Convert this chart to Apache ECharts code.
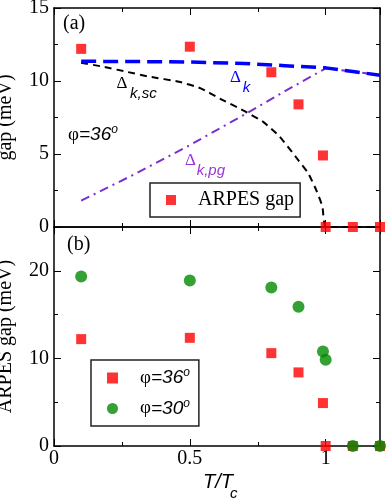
<!DOCTYPE html>
<html>
<head>
<meta charset="UTF-8">
<style>
	html, body { margin: 0; padding: 0; background: #fff; }
	#main { width: 388px; height: 501px; }
</style>
</head>
<body>
	<div id="main"></div>
	<script src="https://cdn.jsdelivr.net/npm/echarts@6/dist/echarts.min.js"></script>
<script>
	// ARPES points (phi = 36 and phi = 30)
	var tArpes = [0.1, 0.5, 0.8, 0.9, 0.99, 1.0, 1.1, 1.2];
	var gap36 = [12.2, 12.35, 10.6, 8.4, 4.9, 0, 0, 0];
	var gap30 = [19.35, 18.9, 18.1, 15.9, 10.8, 9.85, 0, 0];

	// model curves, top panel
	var tSc = [0.1, 0.18, 0.27, 0.35, 0.46, 0.54, 0.61, 0.7, 0.77, 0.83, 0.89, 0.935, 0.966, 0.988, 1.0, 1.1, 1.2];
	var gapSc = [11.25, 10.98, 10.62, 10.3, 9.95, 9.5, 8.8, 7.95, 7.2, 6.2, 4.8, 3.7, 2.5, 1.4, 0, 0, 0];
	var tK = [0.1, 0.3, 0.5, 0.7, 0.85, 1.0, 1.1, 1.2];
	var gapK = [11.35, 11.33, 11.3, 11.2, 11.05, 10.9, 10.65, 10.4];
	var tPg = [0.1, 0.3, 0.49, 0.72, 0.85, 1.0, 1.1, 1.2];
	var gapPg = [1.8, 3.65, 5.5, 7.9, 9.3, 10.87, 10.65, 10.4];

	var serif = 'Liberation Serif';
	var sans = 'Liberation Sans';

	function pairs(xs, ys) {
		var out = [];
		for (var i = 0; i < xs.length; i++) out.push([xs[i], ys[i]]);
		return out;
	}

	// one axis; "major" ones draw the frame line and long ticks
	function axis(grid, pos, max, step, major, labels) {
		return {
			type: 'value', gridIndex: grid, position: pos,
			min: 0, max: max, interval: step,
			axisLine: { show: major, onZero: false, lineStyle: { color: '#000', width: 1.5 } },
			axisTick: { show: true, inside: true, length: major ? 7 : 4, lineStyle: { color: '#000', width: 1 } },
			axisLabel: {
				show: !!labels, showMaxLabel: pos == 'left' && grid == 0,
				fontFamily: serif, fontSize: 20, color: '#000', margin: 5
			},
			splitLine: { show: false }
		};
	}

	var xAxes = [], yAxes = [];
	[0, 1].forEach(function (g) {
		xAxes.push(axis(g, 'bottom', 1.2, 0.5, true, g == 1));
		xAxes.push(axis(g, 'bottom', 1.2, 0.25, false));
		xAxes.push(axis(g, 'top', 1.2, 0.5, true));
		xAxes.push(axis(g, 'top', 1.2, 0.25, false));
		var ym = g == 0 ? 15 : 25, ys = g == 0 ? 5 : 10;
		yAxes.push(axis(g, 'left', ym, ys, true, true));
		yAxes.push(axis(g, 'left', ym, ys / 2, false));
		yAxes.push(axis(g, 'right', ym, ys, true));
		yAxes.push(axis(g, 'right', ym, ys / 2, false));
	});
	xAxes[4].axisLabel.showMaxLabel = false;
	xAxes[4].axisLabel.margin = 3;
	yAxes[0].name = 'gap (meV)';
	yAxes[4].name = 'ARPES gap (meV)';
	[yAxes[0], yAxes[4]].forEach(function (a) {
		a.nameLocation = 'middle';
		a.nameGap = 38;
		a.nameTextStyle = { fontFamily: serif, fontSize: 20, color: '#000' };
	});

	var phiRich = {
		p: { fontFamily: serif, fontSize: 19, lineHeight: 22, color: '#000' },
		n: { fontFamily: sans, fontStyle: 'italic', fontSize: 19, lineHeight: 22, color: '#000' },
		o: { fontFamily: sans, fontStyle: 'italic', fontSize: 12, lineHeight: 10, verticalAlign: 'top', color: '#000' },
		s: { width: 17 },
		t: { fontFamily: serif, fontSize: 20, lineHeight: 20, color: '#000' }
	};

	var myChart = echarts.init(document.getElementById('main'), null, { renderer: 'canvas' });
	myChart.setOption({
		animation: false,
		backgroundColor: '#fff',
		grid: [
			{ left: 54, top: 8, width: 326, height: 219, outerBoundsMode: 'none', containLabel: false },
			{ left: 54, top: 227, width: 326, height: 219, outerBoundsMode: 'none', containLabel: false }
		],
		xAxis: xAxes,
		yAxis: yAxes,
		legend: [
			{
				data: ['ARPES gap'], left: 150, top: 183,
				padding: [7, 6, 7, 16], borderColor: '#222', borderWidth: 1.5,
				itemWidth: 10, itemHeight: 10, selectedMode: false,
				formatter: function () { return '{s| }{t|ARPES gap}'; },
				textStyle: { rich: phiRich }
			},
			{
				data: ['φ=36°', 'φ=30°'], orient: 'vertical', left: 91, top: 360,
				padding: [7, 9, 8, 16], itemGap: 10, borderColor: '#222', borderWidth: 1.5,
				itemWidth: 11, itemHeight: 11, selectedMode: false,
				formatter: function (name) {
					return '{s| }{p|φ}{n|=' + (name.indexOf('36') > 0 ? '36' : '30') + '}{o|o}';
				},
				textStyle: { rich: phiRich }
			}
		],
		series: [
			{
				type: 'line', xAxisIndex: 0, yAxisIndex: 0, data: pairs(tSc, gapSc),
				smooth: 0.15, showSymbol: false,
				lineStyle: { color: '#000', width: 2, type: [7, 5] }
			},
			{
				type: 'line', xAxisIndex: 0, yAxisIndex: 0, data: pairs(tPg, gapPg),
				showSymbol: false,
				lineStyle: { color: '#7b2fd0', width: 2, type: [9, 5, 2, 5] }
			},
			{
				type: 'line', xAxisIndex: 0, yAxisIndex: 0, data: pairs(tK, gapK),
				showSymbol: false,
				lineStyle: { color: '#0000ff', width: 3.5, type: [15, 7] }
			},
			{
				name: 'ARPES gap', type: 'scatter', xAxisIndex: 0, yAxisIndex: 0,
				data: pairs(tArpes, gap36), symbol: 'rect', symbolSize: 10,
				itemStyle: { color: '#ff0000' }, z: 5
			},
			{
				name: 'φ=36°', type: 'scatter', xAxisIndex: 4, yAxisIndex: 4,
				data: pairs(tArpes, gap36), symbol: 'rect', symbolSize: 10,
				itemStyle: { color: '#ff0000' }, z: 4
			},
			{
				name: 'φ=30°', type: 'scatter', xAxisIndex: 4, yAxisIndex: 4,
				data: pairs(tArpes, gap30), symbol: 'circle', symbolSize: 12,
				itemStyle: { color: '#008a00' }, z: 5
			}
		],
		graphic: [
			{ type: 'text', left: 63, top: 14, style: { text: '(a)', font: '20px "Liberation Serif"', fill: '#000' } },
			{ type: 'text', left: 67, top: 235, style: { text: '(b)', font: '20px "Liberation Serif"', fill: '#000' } },
			{ type: 'text', x: 116.5, y: 83.3, style: { text: 'Δ', font: '17px "Liberation Serif"', fill: '#000', verticalAlign: 'middle' } },
			{ type: 'text', x: 130, y: 93.8, style: { text: 'k,sc', font: 'italic 15px "Liberation Sans"', fill: '#000', verticalAlign: 'middle' } },
			{ type: 'text', x: 230, y: 77.8, style: { text: 'Δ', font: '17px "Liberation Serif"', fill: '#0000ff', verticalAlign: 'middle' } },
			{ type: 'text', x: 242.7, y: 88.1, style: { text: 'k', font: 'italic 15px "Liberation Sans"', fill: '#0000ff', verticalAlign: 'middle' } },
			{ type: 'text', x: 185, y: 160.3, style: { text: 'Δ', font: '17px "Liberation Serif"', fill: '#9a32d8', verticalAlign: 'middle' } },
			{ type: 'text', x: 196.7, y: 170.8, style: { text: 'k,pg', font: 'italic 15px "Liberation Sans"', fill: '#9a32d8', verticalAlign: 'middle' } },
			{ type: 'text', x: 68, y: 135, style: { text: '{p|φ}{n|=36}{o|o}', rich: phiRich, verticalAlign: 'middle' } },
			{ type: 'text', x: 203, y: 482.5, style: { text: 'T/T', font: 'italic 20px "Liberation Sans"', fill: '#000', verticalAlign: 'middle' } },
			{ type: 'text', x: 230, y: 493.8, style: { text: 'c', font: 'italic 15px "Liberation Sans"', fill: '#000', verticalAlign: 'middle' } }
		]
	});
</script>
</body>
</html>
